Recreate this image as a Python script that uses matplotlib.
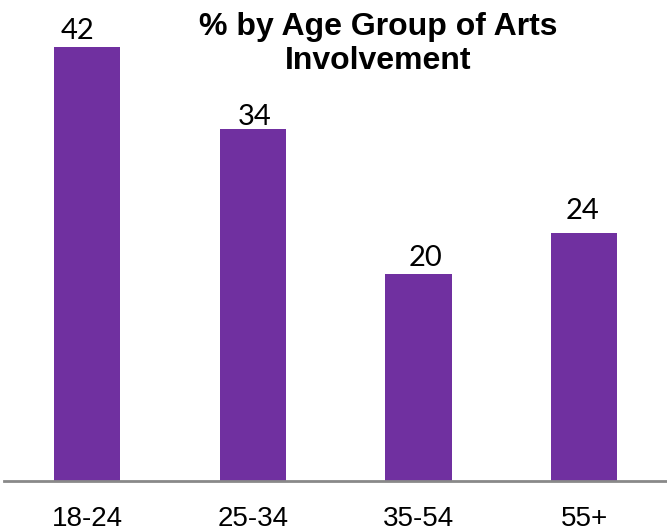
import numpy as np
import matplotlib
matplotlib.use('Agg')
import matplotlib.pyplot as plt

# Data
age_groups = ['18-24', '25-34', '35-54', '55+']
pct_involved = [42, 34, 20, 24]
# small nudges (pixels) of value labels, as in the original
label_nudge = [(-10, 8), (2, 4), (7, 8), (-2, 14)]

purple = '#7030A0'
grey = '#898989'

fig = plt.figure(figsize=(6.67, 5.31), dpi=100)
ax = fig.add_axes([4.4 / 667, 1 - 481 / 531, 1 - 4.4 / 667, 481 / 531])

x = np.arange(len(age_groups))
bars = ax.bar(x, pct_involved, width=0.4, color=purple, zorder=2)

ax.set_xlim(-0.5, 3.5)
ax.set_ylim(0, 481 / 10.34)

for sp in ['top', 'left', 'right']:
    ax.spines[sp].set_visible(False)
ax.spines['bottom'].set_color(grey)
ax.spines['bottom'].set_linewidth(2)
ax.spines['bottom'].set_zorder(3)

ax.set_yticks([])
ax.set_xticks(x)
ax.set_xticklabels(age_groups, fontfamily='Liberation Sans', fontsize=20)
ax.tick_params(axis='x', length=0, pad=18)

for xi, v, (dx, dy) in zip(x, pct_involved, label_nudge):
    ax.annotate(str(v), xy=(xi, v), xytext=(dx, dy), textcoords='offset pixels',
                ha='center', va='baseline', fontsize=21, fontfamily=['Lato', 'DejaVu Sans'],
                color='black')

fig.text(378 / 667, 1 - 44 / 531, '% by Age Group of Arts\nInvolvement',
         ha='center', va='center', fontsize=23, fontweight='bold',
         fontfamily='Liberation Sans', linespacing=1.2)

fig.savefig('out.png', dpi=100)
